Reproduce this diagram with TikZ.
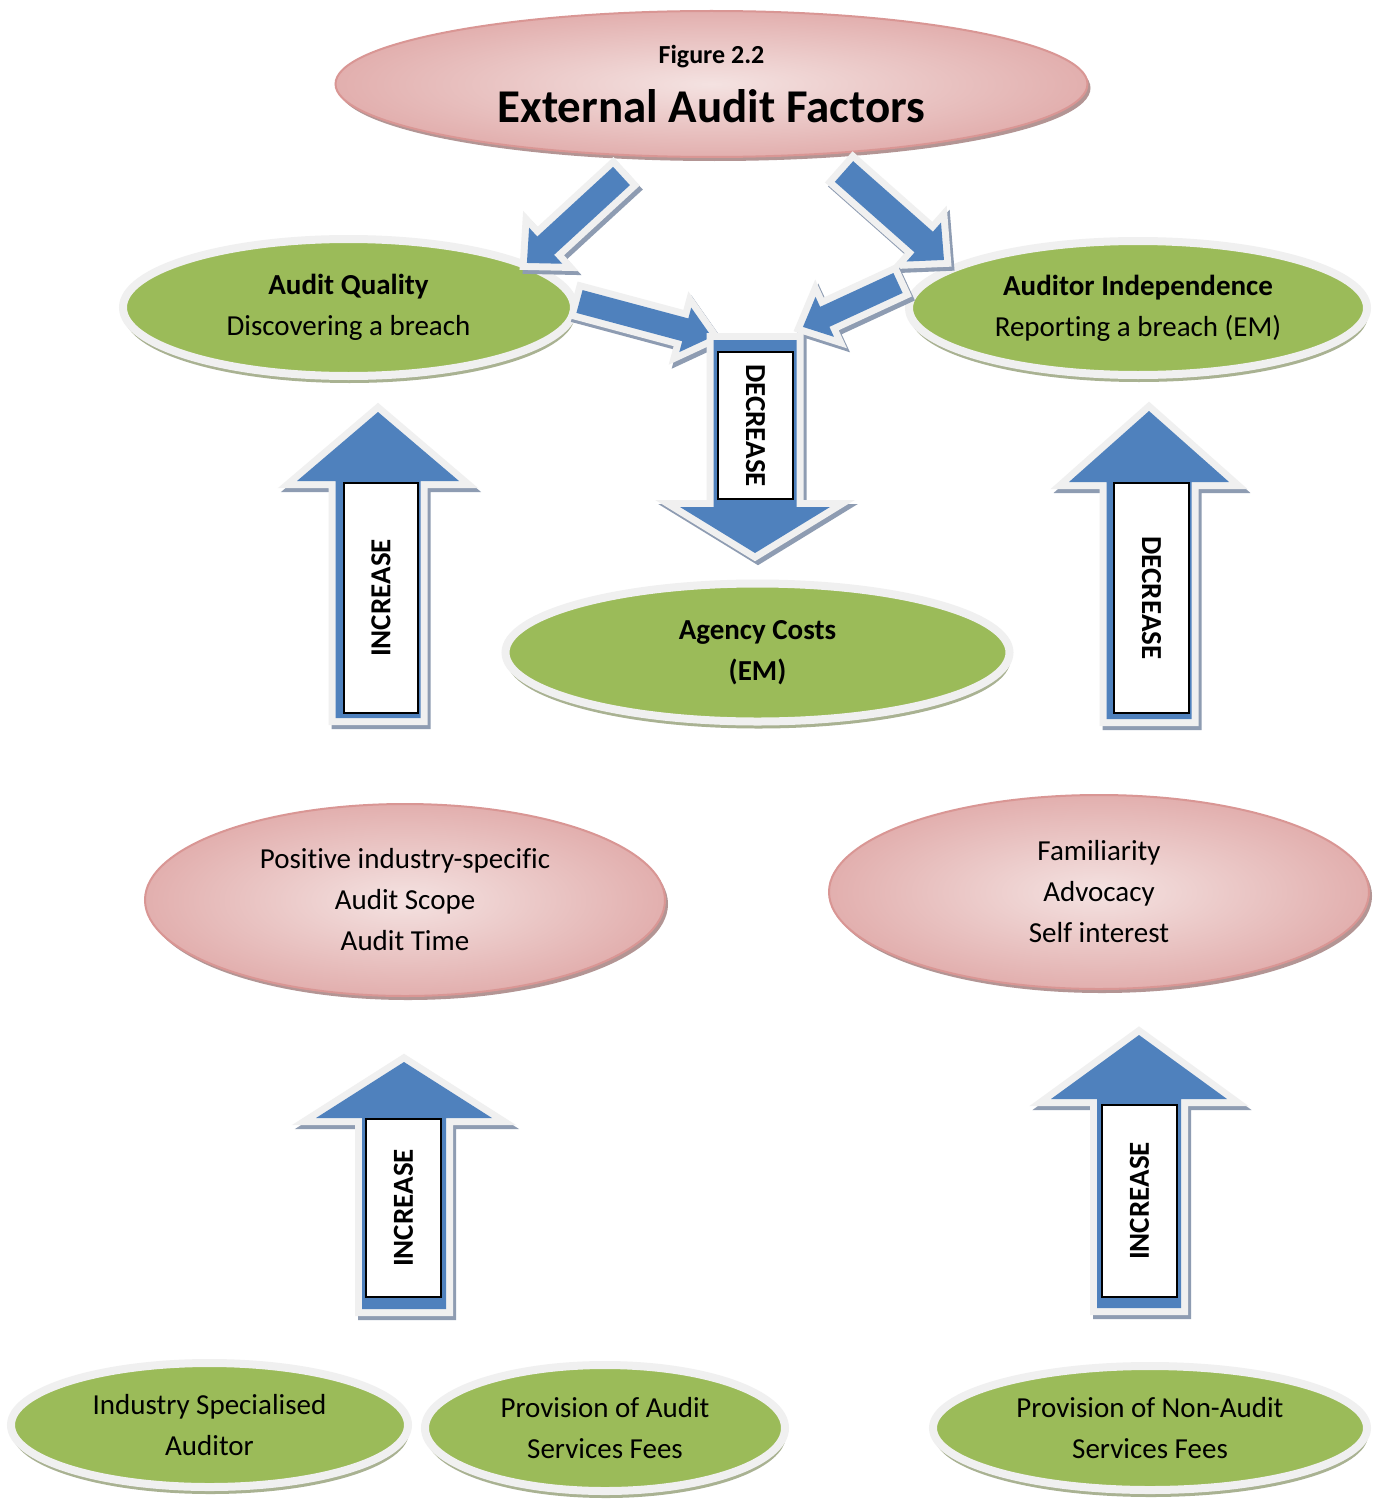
\documentclass[tikz,border=0pt]{standalone}
\usepackage{fontspec}
\setmainfont[Ligatures={NoCommon}]{Carlito}
\usetikzlibrary{shapes.geometric,shadows}
\definecolor{agreen}{HTML}{9BBB59}
\definecolor{ablue}{HTML}{4F81BD}
\definecolor{ringgray}{HTML}{F0F0F0}
\definecolor{ashadow}{HTML}{8E9CB2}
\definecolor{gshadow}{HTML}{A9B292}
\definecolor{pinkin}{HTML}{F4E2E1}
\definecolor{pinkout}{HTML}{E2AFAE}
\definecolor{pinkedge}{HTML}{D99694}
\definecolor{pshadow}{HTML}{B39594}
\newcommand\bodyfont{\fontsize{29}{41}\selectfont}
% #1 tail coordinate, #2 angle, #3 length, #4 half shaft, #5 half head, #6 head length
\newcommand\blockarrow[6]{%
  \filldraw[ashadow, line width=14pt, line join=miter, shift={#1}, xshift=3pt, yshift=-4pt, rotate=#2]
    (0,#4) -- ({#3-#6},#4) -- ({#3-#6},#5) -- (#3,0) -- ({#3-#6},-#5) -- ({#3-#6},-#4) -- (0,-#4) -- cycle;
  \filldraw[ringgray, line width=14pt, line join=miter, shift={#1}, rotate=#2]
    (0,#4) -- ({#3-#6},#4) -- ({#3-#6},#5) -- (#3,0) -- ({#3-#6},-#5) -- ({#3-#6},-#4) -- (0,-#4) -- cycle;
  \fill[ablue, shift={#1}, rotate=#2]
    (0,#4) -- ({#3-#6},#4) -- ({#3-#6},#5) -- (#3,0) -- ({#3-#6},-#5) -- ({#3-#6},-#4) -- (0,-#4) -- cycle;
}
\tikzset{
  gell/.style={ellipse, inner sep=0pt, fill=agreen, draw=ringgray, line width=8pt, align=center,
    font=\bodyfont, drop shadow={shadow xshift=1pt, shadow yshift=-7pt, fill=gshadow, opacity=1}},
  pell/.style={ellipse, inner sep=0pt, draw=pinkedge, line width=2pt, inner color=pinkin, outer color=pinkout,
    align=center, font=\bodyfont, drop shadow={shadow xshift=3pt, shadow yshift=-4pt, fill=pshadow, opacity=1}},
  lbl/.style={rectangle, draw=black, line width=1.5pt, fill=white, inner sep=0pt, font=\bfseries\bodyfont},
}
\begin{document}
\begin{tikzpicture}[x=1pt,y=-1pt]
\useasboundingbox[fill=white] (0,0) rectangle (1381,1501);

% title
\node[pell, minimum width=752pt, minimum height=146pt] (title) at (711.5,84) {};
\node[font=\bfseries\fontsize{26}{30}\selectfont, anchor=base] (fig) at (711.5,64) {Figure 2.2};
\node[font=\bfseries\fontsize{47}{50}\selectfont, anchor=base] (ttl) at (711.5,123) {External Audit Factors};

% green ellipses
\node[gell, minimum width=451pt, minimum height=137pt] (aq) at (348.5,307.5) {\textbf{Audit Quality}\\Discovering a breach};
\node[gell, minimum width=458pt, minimum height=134pt] (ai) at (1138,308) {\textbf{Auditor Independence}\\Reporting a breach (EM)};
\node[gell, minimum width=504pt, minimum height=138pt] (ac) at (757.5,652.5) {\textbf{Agency Costs}\\\textbf{(EM)}};
\node[gell, minimum width=397pt, minimum height=124pt] (isa) at (209.5,1425) {Industry Specialised\\Auditor};
\node[gell, minimum width=360pt, minimum height=126pt] (pas) at (605,1428) {Provision of Audit\\Services Fees};
\node[gell, minimum width=434pt, minimum height=124pt] (pnas) at (1150,1428) {Provision of Non-Audit\\Services Fees};

% pink ellipses
\node[pell, minimum width=520pt, minimum height=192pt] (pos) at (405,900) {Positive industry-specific\\Audit Scope\\Audit Time};
\node[pell, minimum width=540pt, minimum height=194pt] (fam) at (1099,892) {Familiarity\\Advocacy\\Self interest};

% arrow tails
\coordinate (t1) at (378,718);
\coordinate (t2) at (1149,719);
\coordinate (t3) at (404,1309);
\coordinate (t4) at (1139,1308);
\coordinate (t5) at (755,340);
\coordinate (d1) at (621.5,176);
\coordinate (d2) at (844,171.5);
\coordinate (d3) at (579.5,301.5);
\coordinate (d4) at (898,283);

\blockarrow{(t1)}{90}{306}{42.5}{81}{69}
\blockarrow{(t2)}{90}{308}{42.5}{80}{71}
\blockarrow{(t3)}{90}{247}{42}{88}{56}
\blockarrow{(t4)}{90}{273}{42}{88}{64}
\blockarrow{(d1)}{222.6}{128.5}{12.4}{24.5}{25.5}
\blockarrow{(d2)}{-41.5}{133.5}{13.8}{26}{27}
\blockarrow{(d3)}{-15}{137}{11.8}{23}{27.5}
\blockarrow{(d4)}{204.8}{104.7}{11}{22}{24}
\blockarrow{(t5)}{-90}{213}{41.5}{75}{46}

% labels
\node[lbl, rotate=90, minimum width=230pt, minimum height=74pt] (l1) at (381,598) {INCREASE};
\node[lbl, rotate=-90, minimum width=230pt, minimum height=75pt] (l2) at (1151.5,598) {DECREASE};
\node[lbl, rotate=90, minimum width=178pt, minimum height=75pt] (l3) at (403.5,1208) {INCREASE};
\node[lbl, rotate=90, minimum width=192pt, minimum height=75pt] (l4) at (1139.5,1201) {INCREASE};
\node[lbl, rotate=-90, minimum width=147pt, minimum height=75pt] (l5) at (755.5,425.5) {DECREASE};
\end{tikzpicture}
\end{document}
